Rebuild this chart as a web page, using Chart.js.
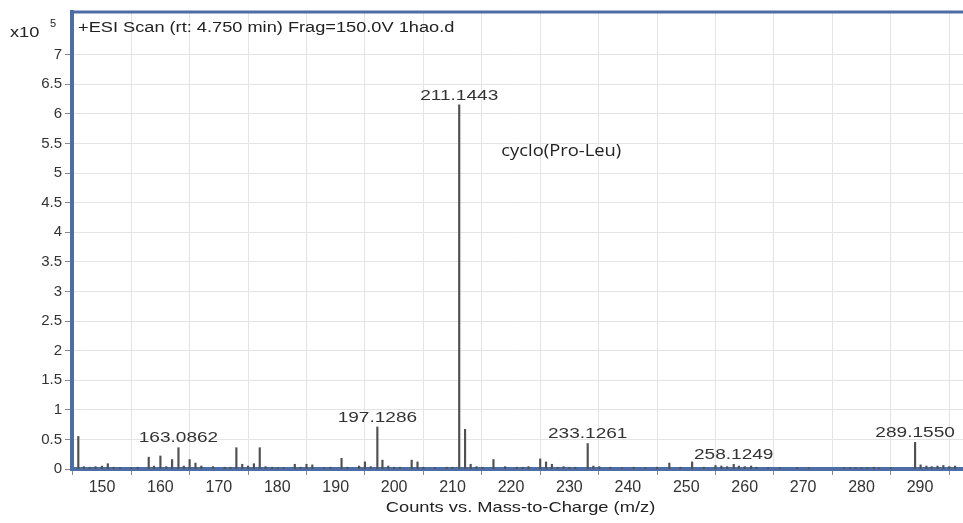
<!DOCTYPE html>
<html lang="en">
  <head>
    <meta charset="UTF-8" />
    <title>ESI Scan 1hao.d</title>
    <script src="https://cdn.jsdelivr.net/npm/chart.js@4"></script>
    <style>
      html, body { margin: 0; padding: 0; background: #fff; }
      .wrap { width: 963px; height: 523px; }
    </style>
  </head>
  <body>
    <div class="wrap"><canvas id="msChart"></canvas></div>

    <script>
      // m/z of each stick and its intensity (x10^5 counts)
      const mzValues = [
        145.95, 146.9, 147.9, 148.9, 150.0, 151.0, 152.0, 153.1, 155.0, 156.1,
        158.0, 158.9, 160.0, 161.0, 162.0, 163.09, 164.0, 165.0, 166.0, 167.0,
        169.0, 171.0, 172.0, 173.0, 174.0, 175.0, 176.0, 177.0, 178.0, 179.1,
        180.1, 181.1, 183.0, 184.0, 185.0, 186.0, 188.0, 189.1, 191.0, 192.0,
        194.0, 195.0, 196.0, 197.13, 198.0, 199.0, 200.0, 201.0, 203.0, 204.0,
        205.0, 207.0, 209.0, 210.0, 211.14, 212.14, 213.1, 214.1, 215.1, 217.0,
        219.0, 221.0, 222.0, 223.0, 225.0, 226.0, 227.0, 228.0, 229.0, 230.0,
        231.0, 233.13, 234.1, 235.1, 237.0, 239.0, 241.0, 243.0, 245.0, 247.1,
        249.0, 251.0, 253.0, 255.0, 256.0, 257.0, 258.12, 259.0, 260.0, 261.1,
        262.0, 264.0, 266.0, 269.0, 271.0, 277.0, 278.0, 279.0, 280.0, 281.0,
        282.1, 283.0, 285.0, 289.16, 290.1, 291.1, 292.0, 293.0, 294.0, 295.0,
        296.0
      ];
      const intensities = [
        0.55, 0.04, 0.03, 0.04, 0.05, 0.09, 0.03, 0.02, 0.02, 0.03,
        0.20, 0.05, 0.22, 0.04, 0.16, 0.36, 0.05, 0.16, 0.10, 0.05,
        0.04, 0.03, 0.03, 0.36, 0.08, 0.05, 0.09, 0.36, 0.04, 0.03,
        0.02, 0.02, 0.08, 0.03, 0.08, 0.07, 0.02, 0.03, 0.18, 0.03,
        0.05, 0.12, 0.04, 0.71, 0.15, 0.05, 0.03, 0.03, 0.15, 0.12,
        0.03, 0.02, 0.03, 0.03, 6.15, 0.67, 0.08, 0.04, 0.03, 0.16,
        0.04, 0.03, 0.03, 0.04, 0.17, 0.12, 0.08, 0.03, 0.04, 0.03,
        0.03, 0.43, 0.05, 0.04, 0.03, 0.02, 0.03, 0.02, 0.03, 0.10,
        0.03, 0.12, 0.03, 0.06, 0.05, 0.04, 0.08, 0.05, 0.04, 0.05,
        0.03, 0.02, 0.02, 0.02, 0.02, 0.02, 0.02, 0.02, 0.02, 0.02,
        0.03, 0.02, 0.02, 0.45, 0.07, 0.05, 0.04, 0.05, 0.06, 0.04,
        0.05
      ];

      // labelled peaks
      const peakLabelMz = [163.09, 197.13, 211.14, 233.13, 258.12, 289.16];
      const peakLabelText = ["163.0862", "197.1286", "211.1443", "233.1261", "258.1249", "289.1550"];

      const xTickValues = [150, 160, 170, 180, 190, 200, 210, 220, 230, 240, 250, 260, 270, 280, 290];
      const yTickValues = [0, 0.5, 1, 1.5, 2, 2.5, 3, 3.5, 4, 4.5, 5, 5.5, 6, 6.5, 7];

      const compoundName = "cyclo(Pro-Leu)";
      const compoundAt = [228.6, 5.37];
      const scanTitle = "+ESI Scan (rt: 4.750 min) Frag=150.0V 1hao.d";
      const xAxisTitle = "Counts vs. Mass-to-Charge (m/z)";

      const FONT = "'Liberation Sans', Arial, sans-serif";
      const BLUE = "#4d6da6";
      const STRETCH = 1.27; // the original picture is widened, text too

      // draw text widened horizontally around its anchor
      function wideText(ctx, text, x, y, sx) {
        ctx.save();
        ctx.translate(x, y);
        ctx.scale(sx, 1);
        ctx.fillText(text, 0, 0);
        ctx.restore();
      }

      // text and the top border that chart.js does not draw by itself
      const extrasPlugin = {
        id: "extras",
        afterDatasetsDraw(chart) {
          const { ctx, chartArea, scales } = chart;
          const xs = scales.x, ys = scales.y;
          ctx.save();

          // top border of the plot box
          ctx.strokeStyle = BLUE;
          ctx.lineWidth = 3;
          ctx.beginPath();
          ctx.moveTo(chartArea.left - 2, chartArea.top);
          ctx.lineTo(chartArea.right, chartArea.top);
          ctx.stroke();

          ctx.fillStyle = "#222";
          ctx.font = "14px " + FONT;
          ctx.textAlign = "left";
          ctx.textBaseline = "middle";
          wideText(ctx, scanTitle, chartArea.left + 6, 28, 1.3);

          // x10^5 multiplier
          wideText(ctx, "x10", 10, 33, 1.3);
          ctx.font = "11px " + FONT;
          ctx.fillText("5", 50, 24);

          // peak labels
          ctx.font = "15px " + FONT;
          ctx.fillStyle = "#333";
          ctx.textAlign = "center";
          ctx.textBaseline = "bottom";
          peakLabelMz.forEach((mz, i) => {
            const idx = mzValues.indexOf(mz);
            const px = xs.getPixelForValue(mz);
            const py = ys.getPixelForValue(intensities[idx]);
            wideText(ctx, peakLabelText[i], px, py - 2, STRETCH);
          });

          // x axis title
          ctx.fillStyle = "#222";
          ctx.textBaseline = "middle";
          wideText(ctx, xAxisTitle, (chartArea.left + chartArea.right) / 2 + 3, 508, 1.22);

          // compound annotation
          ctx.font = "17px 'Open Sans', sans-serif";
          wideText(ctx, compoundName, xs.getPixelForValue(compoundAt[0]), ys.getPixelForValue(compoundAt[1]), 1.08);
          ctx.restore();
        },
      };

      const ctx = document.getElementById("msChart").getContext("2d");
      new Chart(ctx, {
        type: "bar",
        data: {
          datasets: [
            {
              data: mzValues.map((mz, i) => ({ x: mz, y: intensities[i] })),
              backgroundColor: "#505050",
              barThickness: 1.5,
              grouped: false,
            },
          ],
        },
        options: {
          responsive: true,
          maintainAspectRatio: false,
          animation: false,
          layout: { padding: { top: 10, right: 0, bottom: 0, left: 0 } },
          plugins: {
            legend: { display: false },
            tooltip: { enabled: false },
          },
          scales: {
            x: {
              type: "linear",
              min: 144.87,
              max: 297.36,
              offset: false,
              afterBuildTicks: (scale) => {
                scale.ticks = xTickValues.map((v) => ({ value: v }));
              },
              afterFit: (scale) => {
                scale.height = 54;
              },
              grid: { color: "#e4e4e4", tickLength: 6, tickColor: "#888" },
              border: { color: BLUE, width: 4 },
              ticks: {
                color: "#333",
                font: { family: FONT, size: 16 },
                padding: 3,
                maxRotation: 0,
                autoSkip: false,
              },
            },
            y: {
              min: 0,
              max: 7.72,
              afterBuildTicks: (scale) => {
                scale.ticks = yTickValues.map((v) => ({ value: v }));
              },
              afterFit: (scale) => {
                scale.width = 72;
              },
              grid: { color: "#e4e4e4", tickLength: 7, tickColor: "#888" },
              border: { color: BLUE, width: 4 },
              ticks: {
                color: "#333",
                font: { family: FONT, size: 15 },
                padding: 3,
                autoSkip: false,
                callback: (v) => String(v),
              },
            },
          },
        },
        plugins: [extrasPlugin],
      });
    </script>
  </body>
</html>
